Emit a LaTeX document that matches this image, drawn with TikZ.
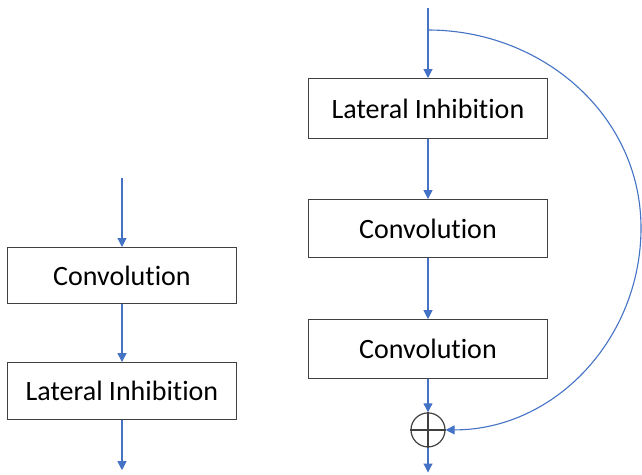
\documentclass[tikz,border=0pt]{standalone}
\usepackage{fontspec}
\setmainfont{Carlito}[Ligatures=NoCommon]
\usetikzlibrary{positioning,arrows.meta}
\definecolor{linkblue}{HTML}{4472C4}
\definecolor{boxgray}{HTML}{404040}

\begin{document}
\begin{tikzpicture}[x=1pt,y=-1pt,
    font=\fontsize{28}{34}\selectfont,
    block/.style={draw=boxgray, line width=1.1pt, align=center, inner sep=0pt},
    link/.style={draw=linkblue, line width=1.1pt, -{Triangle[length=9pt,width=9pt]}}
]
\useasboundingbox (0,0) rectangle (642,474);

% left column
\coordinate (leftIn) at (122,178);

\node[block,
    below=69pt of leftIn,
    minimum width=229pt,
    minimum height=56pt
] (leftConv) {Convolution};

\node[block,
    below=58pt of leftConv,
    minimum width=229pt,
    minimum height=57pt
] (leftLat) {Lateral Inhibition};

\coordinate[below=50pt of leftLat] (leftOut);

% right column with skip connection
\coordinate (rightIn) at (428,8);
\coordinate (rightSplit) at (428,30);

\node[block,
    below=70pt of rightIn,
    minimum width=239pt,
    minimum height=60pt
] (rightLat) {Lateral Inhibition};

\node[block,
    below=60pt of rightLat,
    minimum width=239pt,
    minimum height=58pt
] (rightConv1) {Convolution};

\node[block,
    below=61pt of rightConv1,
    minimum width=239pt,
    minimum height=59pt
] (rightConv2) {Convolution};

\node[draw=boxgray,
    circle,
    line width=1.2pt,
    below=33pt of rightConv2,
    minimum size=34pt,
    inner sep=0pt
] (sum) {};
\draw[boxgray, line width=1.2pt] (sum.north) -- (sum.south) (sum.west) -- (sum.east);

\coordinate[below=25pt of sum] (rightOut);
\coordinate (bulge) at (641,228);

\draw[link] (leftIn) -- (leftConv);
\draw[link] (leftConv) -- (leftLat);
\draw[link] (leftLat) -- (leftOut);

\draw[link] (rightIn) -- (rightLat);
\draw[link] (rightLat) -- (rightConv1);
\draw[link] (rightConv1) -- (rightConv2);
\draw[link] (rightConv2) -- (sum);
\draw[link] (sum) -- (rightOut);
\draw[link] (rightSplit) to[out=0,in=90] (bulge) to[out=-90,in=0] (sum.east);

\end{tikzpicture}
\end{document}
